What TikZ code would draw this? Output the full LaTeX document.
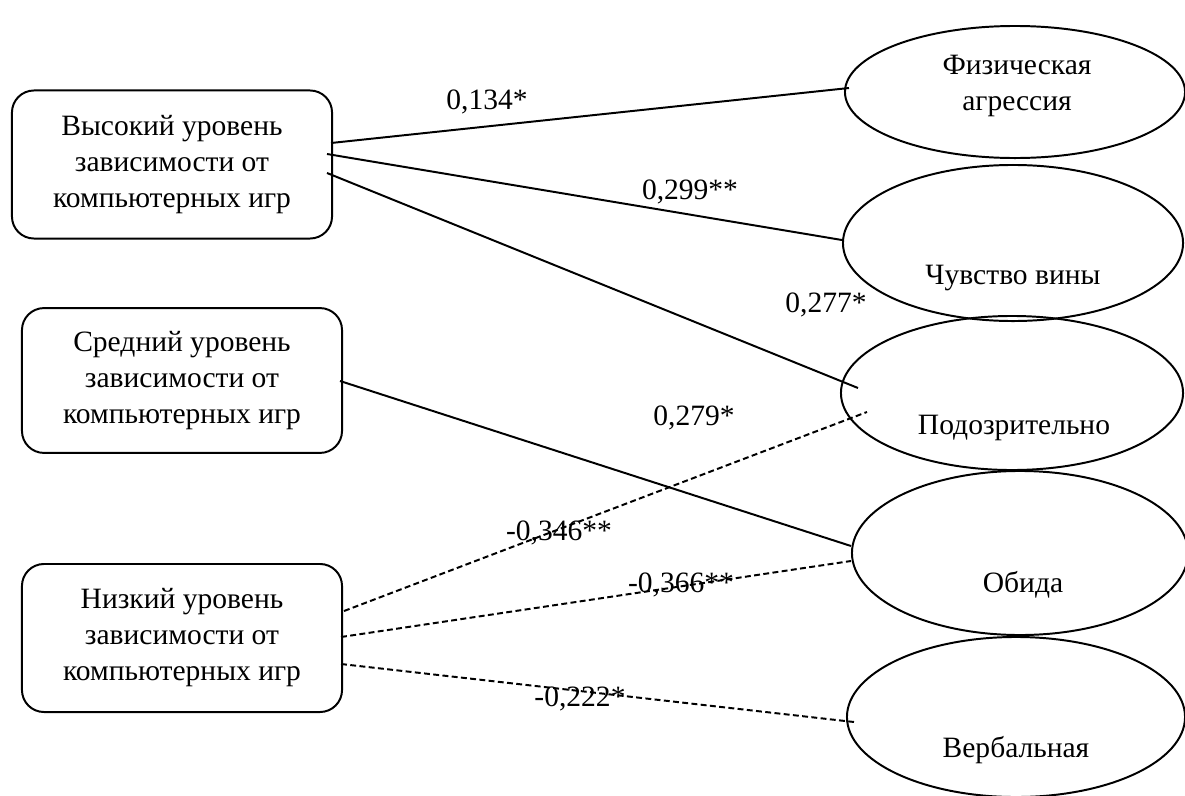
\documentclass[tikz,border=0pt]{standalone}
\usepackage{fontspec}
\setmainfont{Liberation Serif}
\usepackage{tikz}
\usetikzlibrary{shapes.geometric, calc}

\tikzset{
    levelbox/.style={draw, line width=1.4pt, rounded corners=0.55cm, minimum width=8cm, minimum height=3.7cm, inner sep=0pt, align=center},
    trait/.style={draw, ellipse, line width=1.4pt, inner sep=0pt, minimum width=8.5cm},
    link/.style={line width=1.4pt},
    weak/.style={line width=1.4pt, dash pattern=on 4.2pt off 2.4pt}
}

\begin{document}
\begin{tikzpicture}[x=0.025cm, y=-0.025cm, font=\fontsize{21}{25.6}\selectfont]
    \useasboundingbox (0,0) rectangle (1185,796);

    % Levels of dependence
    \node[levelbox] (hi) at (172,164.5) {Высокий уровень\\зависимости от\\компьютерных игр};
    \node[levelbox, minimum height=3.62cm] (mid) at (182,380.5) {Средний уровень\\зависимости от\\компьютерных игр};
    \node[levelbox] (low) at (182,638) {Низкий уровень\\зависимости от\\компьютерных игр};

    % Traits
    \node[trait, minimum height=3.3cm, label={[align=center, xshift=0.05cm, yshift=0.15cm]center:Физическая\\агрессия}] (phys) at (1015,92) {};
    \node[trait, minimum height=3.9cm, label={[yshift=-0.875cm]center:Чувство вины}] (guilt) at (1013,243) {};
    \node[trait, minimum width=8.55cm, minimum height=3.85cm, label={[xshift=0.05cm, yshift=-0.875cm]center:Подозрительно}] (susp) at (1012,393) {};
    \node[trait, minimum width=8.4cm, minimum height=4.1cm, label={[xshift=0.075cm, yshift=-0.8cm]center:Обида}] (resent) at (1020,553) {};
    \node[trait, minimum width=8.45cm, minimum height=4cm, label={[yshift=-0.825cm]center:Вербальная}] (verb) at (1016,717) {};

    % Positive links
    \draw[link] ($(hi.east)+(-2,-21.5)$) -- ($(phys.west)+(5,-4)$);
    \draw[link] ($(hi.east)+(-6,-10.5)$) -- ($(guilt.west)+(0,-3)$);
    \draw[link] ($(hi.east)+(-6,8.5)$) -- ($(susp.west)+(18,-5)$);
    \draw[link] ($(mid.east)+(-3,0.5)$) -- ($(resent.west)+(0,-7)$);

    % Negative links
    \draw[weak] ($(low.east)+(1,-27)$) -- ($(susp.west)+(27,19)$);
    \draw[weak] ($(low.east)+(-2,-1)$) -- ($(resent.west)+(0,8)$);
    \draw[weak] ($(low.east)+(-2,26)$) -- ($(verb.west)+(8,5)$);

    % Coefficients
    \node (c1) at (487,102) {0,134*};
    \node (c2) at (690,192) {0,299**};
    \node (c3) at (826,305) {0,277*};
    \node (c4) at (694,418) {0,279*};
    \node (c5) at (559,533) {-0,346**};
    \node (c6) at (681,585) {-0,366**};
    \node (c7) at (580,699) {-0,222*};
\end{tikzpicture}
\end{document}
